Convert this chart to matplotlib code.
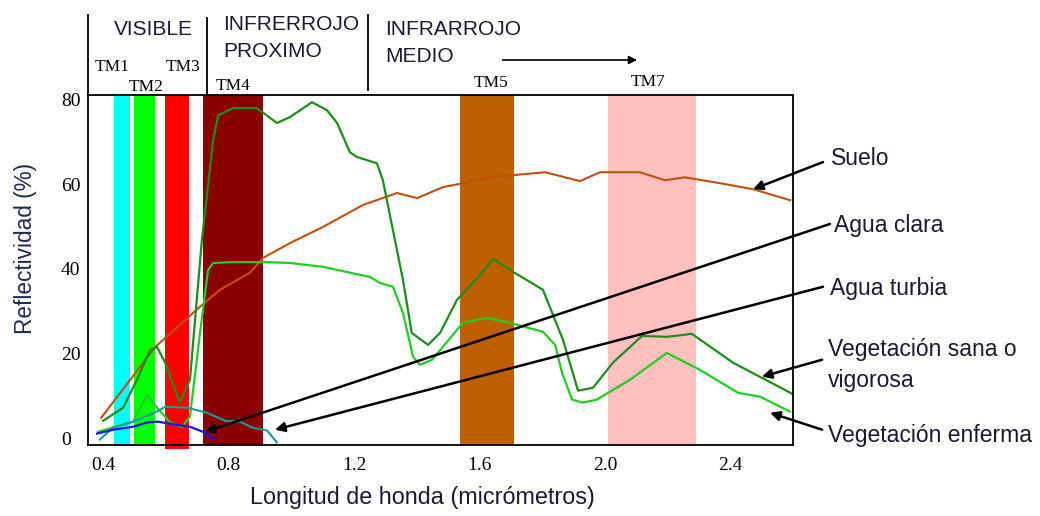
import matplotlib
matplotlib.use("Agg")
import matplotlib.pyplot as plt
import matplotlib.transforms as mtransforms

# ---------------- data ----------------
suelo_x = [0.41, 0.582, 0.725, 0.789, 0.884, 0.926, 1.012, 1.117, 1.245, 1.353, 1.417, 1.50,
           1.563, 1.649, 1.825, 1.936, 2.0, 2.127, 2.207, 2.271, 2.383, 2.488, 2.606]
suelo_y = [4.9, 21.6, 31.1, 35.1, 39.1, 42.6, 46.1, 49.9, 55.1, 57.9, 56.7, 59.3,
           60.2, 61.6, 62.8, 60.7, 62.8, 62.8, 60.9, 61.6, 60.2, 58.8, 56.2]

sana_x = [0.416, 0.48, 0.524, 0.566, 0.588, 0.614, 0.661, 0.693, 0.731, 0.767, 0.783, 0.83,
          0.907, 0.97, 1.012, 1.082, 1.13, 1.162, 1.203, 1.225, 1.289, 1.308, 1.372, 1.40,
          1.452, 1.49, 1.544, 1.618, 1.659, 1.723, 1.818, 1.882, 1.93, 1.978, 2.041, 2.134,
          2.213, 2.293, 2.424, 2.612]
sana_y = [4.2, 7.3, 13.9, 20.9, 21.6, 17.9, 8.5, 13.9, 46.8, 70.4, 76.2, 77.9,
          77.9, 74.4, 75.8, 79.3, 77.4, 74.4, 67.5, 66.4, 64.9, 60.9, 37.4, 24.9,
          22.1, 24.9, 32.7, 38.6, 42.4, 39.3, 35.1, 23.3, 11.3, 12.0, 17.9, 24.2,
          24.0, 24.7, 17.9, 10.6]

enferma_x = [0.40, 0.512, 0.556, 0.588, 0.63, 0.668, 0.693, 0.725, 0.751, 0.767, 0.83, 0.939,
             1.012, 1.117, 1.267, 1.299, 1.34, 1.372, 1.404, 1.426, 1.465, 1.563, 1.64, 1.723,
             1.818, 1.857, 1.879, 1.911, 1.946, 1.99, 2.096, 2.213, 2.319, 2.44, 2.51, 2.605]
enferma_y = [1.6, 4.0, 10.4, 7.3, 3.8, 2.8, 5.2, 24.9, 39.8, 41.4, 41.6, 41.6,
             41.4, 40.5, 38.1, 36.7, 35.8, 29.6, 19.3, 17.4, 18.6, 27.3, 28.5, 27.1,
             25.2, 22.1, 15.5, 9.2, 8.5, 9.2, 13.9, 20.2, 16.2, 10.8, 9.9, 6.4]

turbia_x = [0.406, 0.448, 0.512, 0.588, 0.614, 0.684, 0.747, 0.805, 0.853, 0.891, 0.939, 0.97]
turbia_y = [-0.2, 2.6, 4.0, 6.4, 7.5, 7.3, 6.1, 4.2, 4.0, 2.6, 1.9, -0.9]

clara_x = [0.397, 0.448, 0.512, 0.556, 0.591, 0.63, 0.693, 0.735, 0.767]
clara_y = [1.2, 2.1, 2.8, 3.8, 4.0, 3.5, 2.8, 1.6, 0.0]

bands = [  # (start, end, color, label)
    (0.451, 0.502, "#00FFFF", "TM1"),
    (0.515, 0.582, "#00FF00", "TM2"),
    (0.614, 0.690, "#FF0000", "TM3"),
    (0.735, 0.926, "#880000", "TM4"),
    (1.554, 1.726, "#BF6000", "TM5"),
    (2.025, 2.306, "#FFC0C0", "TM7"),
]

x_ticks = [0.4, 0.8, 1.2, 1.6, 2.0, 2.4]
x_tick_labels = ["0.4", "0.8", "1.2", "1.6", "2.0", "2.4"]
y_ticks = [0, 20, 40, 60, 80]
y_tick_labels = ["0", "20", "40", "60", "80"]

# annotation labels: (text, text x, text y, arrow tail x, tail y, head x, head y)
annotations = [
    ("Suelo", 2.735, 66.1, 2.711, 65.2, 2.488, 58.8),
    ("Agua clara", 2.745, 50.3, 2.733, 50.6, 0.741, 1.6),
    ("Agua turbia", 2.732, 35.4, 2.711, 35.8, 0.964, 2.1),
    ("Vegetación sana o\nvigorosa", 2.726, 17.4, 2.708, 18.6, 2.516, 14.6),
    ("Vegetación enferma", 2.726, 0.85, 2.708, 2.1, 2.542, 6.1),
]

# ---------------- figure ----------------
fig = plt.figure(figsize=(10.4, 5.16), dpi=100)
ax = fig.add_axes([88 / 1040, 71 / 516, 705 / 1040, 350 / 516])
ax.set_xlim(0.368, 2.6152)
ax.set_ylim(-1.5, 81.0)

sans = "Liberation Sans"
serif = "Liberation Serif"
txtcol = "#1a1a33"

for start, end, color, _ in bands:
    ymin = -0.012 if color == "#FF0000" else 0
    ax.axvspan(start, end, ymin=ymin, ymax=1, color=color, lw=0, zorder=1, clip_on=False)

ax.plot(suelo_x, suelo_y, color="#C05010", lw=1.5, zorder=3)
ax.plot(sana_x, sana_y, color="#1E8C1E", lw=1.6, zorder=4)
ax.plot(enferma_x, enferma_y, color="#22CC22", lw=1.6, zorder=4)
ax.plot(turbia_x, turbia_y, color="#1A9A9A", lw=1.5, zorder=5, clip_on=False)
ax.plot(clara_x, clara_y, color="#1515EE", lw=1.6, zorder=5)

for sp in ax.spines.values():
    sp.set_linewidth(1.3)
    sp.set_color("black")
    sp.set_zorder(6)

ax.set_xticks(x_ticks)
ax.set_xticklabels(x_tick_labels, fontfamily=serif, fontsize=14)
ax.set_yticks(y_ticks)
ax.set_yticklabels(y_tick_labels, fontfamily=serif, fontsize=14)
ax.tick_params(axis="both", length=0)
ax.tick_params(axis="x", pad=9)
ax.tick_params(axis="y", pad=19.5)
shift = mtransforms.ScaledTranslation(5 / 100, 0, fig.dpi_scale_trans)
for lab in ax.get_xticklabels():
    lab.set_transform(lab.get_transform() + shift)
for lab in ax.get_yticklabels():
    lab.set_horizontalalignment("left")

ax.set_xlabel("Longitud de honda (micrómetros)", fontfamily=sans, fontsize=16.8,
              color=txtcol, va="center")
ax.xaxis.set_label_coords(0.474, -0.149)
ax.set_ylabel("Reflectividad (%)", fontfamily=sans, fontsize=16.3, color="#1f2a55",
              va="center")
ax.yaxis.set_label_coords(-0.089, 0.563)

# header (x in data, y in axes fraction)
trans = mtransforms.blended_transform_factory(ax.transData, ax.transAxes)
ax.plot([0.368, 0.368], [1.0, 1.229], color="black", lw=1.3, transform=trans, clip_on=False)
ax.plot([0.747, 0.747], [1.0, 1.22], color="black", lw=1.3, transform=trans, clip_on=False)
ax.plot([1.26, 1.26], [1.014, 1.229], color="black", lw=1.3, transform=trans, clip_on=False)

hfs = 15
ax.text(0.578, 1.187, "VISIBLE", transform=trans, ha="center", va="center",
        fontfamily=sans, fontsize=hfs, color=txtcol)
ax.text(0.8, 1.2, "INFRERROJO", transform=trans, ha="left", va="center",
        fontfamily=sans, fontsize=hfs, color=txtcol)
ax.text(0.8, 1.123, "PROXIMO", transform=trans, ha="left", va="center",
        fontfamily=sans, fontsize=hfs, color=txtcol)
ax.text(1.315, 1.186, "INFRARROJO", transform=trans, ha="left", va="center",
        fontfamily=sans, fontsize=hfs, color=txtcol)
ax.text(1.315, 1.111, "MEDIO", transform=trans, ha="left", va="center",
        fontfamily=sans, fontsize=hfs, color=txtcol)
ax.annotate("", xy=(2.127, 1.1), xytext=(1.681, 1.1), xycoords=trans, textcoords=trans,
            arrowprops=dict(arrowstyle="-|>", color="black", lw=1.2, mutation_scale=12),
            annotation_clip=False)

tm_pos = {"TM1": (0.444, 1.079), "TM2": (0.553, 1.023), "TM3": (0.67, 1.079),
          "TM4": (0.83, 1.026), "TM5": (1.653, 1.034), "TM7": (2.153, 1.037)}
for _, _, _, lab in bands:
    x, y = tm_pos[lab]
    ax.text(x, y, lab, transform=trans, ha="center", va="center",
            fontfamily=serif, fontsize=12.5, color="black")

for text, tx, ty, ax0, ay0, hx, hy in annotations:
    ax.annotate("", xy=(hx, hy), xytext=(ax0, ay0),
                arrowprops=dict(arrowstyle="-|>", color="black", lw=1.8, mutation_scale=14,
                                shrinkA=0, shrinkB=0),
                annotation_clip=False, zorder=7)
    ax.text(tx, ty, text, ha="left", va="center", fontfamily=sans, fontsize=16.5,
            color=txtcol, clip_on=False, linespacing=1.43)

fig.savefig("out.png", dpi=100)
